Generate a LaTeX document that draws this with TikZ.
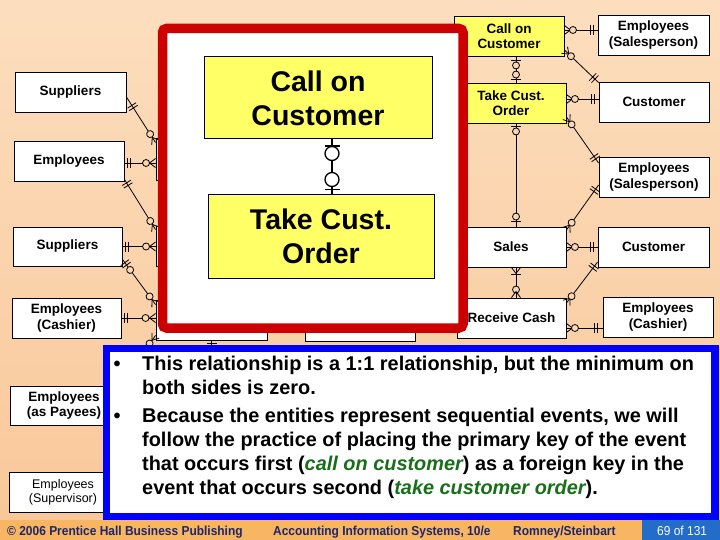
\documentclass[tikz,border=0pt]{standalone}
\usepackage{fontspec}
\setmainfont{Liberation Sans}
\newfontfamily\footfont{Liberation Sans}[FakeStretch=0.92]
\usetikzlibrary{calc,decorations.markings}

\definecolor{bgtop}{RGB}{252,222,190}
\definecolor{bgbot}{RGB}{249,199,152}
\definecolor{bgmid}{RGB}{251,214,176}
\definecolor{footor}{RGB}{248,182,98}
\definecolor{footblue}{RGB}{35,108,200}
\definecolor{navy}{RGB}{28,38,110}
\definecolor{redframe}{RGB}{204,0,0}
\definecolor{blueframe}{RGB}{0,0,255}
\definecolor{evyellow}{RGB}{255,255,102}
\definecolor{termgreen}{RGB}{25,110,25}

\tikzset{
  ent/.style={draw=black, line width=0.9pt, fill=white, inner sep=0pt, align=center,
    minimum width=110pt, minimum height=40pt, font=\bfseries\fontsize{13.5}{15.5}\selectfont},
  bigev/.style={draw=black, line width=1pt, fill=evyellow, inner sep=0pt, align=center,
    font=\bfseries\fontsize{28.5}{34}\selectfont},
  conn/.style={line width=0.8pt, draw=black},
  bigconn/.style={line width=1.3pt, draw=black},
  cfS/.style={postaction={decorate, decoration={markings, mark=at position 0.01pt with {\draw[conn] (0pt,4.5pt) -- (6pt,0pt) -- (0pt,-4.5pt);}}}},
  cfE/.style={postaction={decorate, decoration={markings, mark=at position -0.01pt with {\draw[conn] (0pt,4.5pt) -- (-6pt,0pt) -- (0pt,-4.5pt);}}}},
  ciS/.style={postaction={decorate, decoration={markings, mark=at position #1 with {\draw[conn,fill=bgmid] (0pt,0pt) circle (3.5pt);}}}},
  ciE/.style={postaction={decorate, decoration={markings, mark=at position -#1 with {\draw[conn,fill=bgmid] (0pt,0pt) circle (3.5pt);}}}},
  bS/.style={postaction={decorate, decoration={markings, mark=at position #1 with {\draw[conn] (0pt,5pt) -- (0pt,-5pt);}}}},
  bE/.style={postaction={decorate, decoration={markings, mark=at position -#1 with {\draw[conn] (0pt,5pt) -- (0pt,-5pt);}}}},
  bciS/.style={postaction={decorate, decoration={markings, mark=at position #1 with {\draw[bigconn,fill=white] (0pt,0pt) circle (7pt);}}}},
  bciE/.style={postaction={decorate, decoration={markings, mark=at position -#1 with {\draw[bigconn,fill=white] (0pt,0pt) circle (7pt);}}}},
  bbS/.style={postaction={decorate, decoration={markings, mark=at position #1 with {\draw[bigconn] (0pt,7.5pt) -- (0pt,-7.5pt);}}}},
  bbE/.style={postaction={decorate, decoration={markings, mark=at position -#1 with {\draw[bigconn] (0pt,7.5pt) -- (0pt,-7.5pt);}}}},
  bodytext/.style={anchor=base west, inner sep=0pt, font=\bfseries\fontsize{19.9}{24}\selectfont},
  foottext/.style={anchor=base west, inner sep=0pt, text=navy, font=\footfont\bfseries\fontsize{13}{15}\selectfont}
}

\begin{document}
\begin{tikzpicture}[x=1pt,y=-1pt]
\useasboundingbox (0,0) rectangle (720,540);
\shade[top color=bgtop,bottom color=bgbot] (0,0) rectangle (720,540);

% footer
\fill[footor] (0,520) rectangle (720,540);
\fill[footblue] (642,520) rectangle (720,540);
\node[foottext] (f1) at (7,535) {© 2006 Prentice Hall Business Publishing};
\node[foottext] (f2) at (273,535) {Accounting Information Systems, 10/e};
\node[foottext] (f3) at (513,535) {Romney/Steinbart};
\node[foottext, text=white, font=\footfont\fontsize{13}{15}\selectfont] (f4) at (657,535) {69 of 131};

% left entities
\node[ent,minimum width=111pt] (sup1) at (70.5,92) {Suppliers};
\node[ent] (emp1) at (69,161) {Employees};
\node[ent,minimum width=109pt,minimum height=39pt] (sup2) at (67.5,246.5) {Suppliers};
\node[ent,minimum width=109pt] (empc) at (66.5,318) {Employees\\(Cashier)};
\node[ent,minimum width=108pt,minimum height=39pt] (empp) at (64,405.5) {Employees\\(as Payees)};
\node[ent,font=\fontsize{12.5}{14}\selectfont,minimum width=108pt] (emps) at (63,492) {Employees\\(Supervisor)};

% hidden events
\node[ent,minimum width=111pt,minimum height=42pt] (ev1) at (211.5,159) {};
\node[ent,minimum width=111pt] (ev2) at (211.5,246) {};
\node[ent,minimum width=111pt] (ev3) at (211.5,320) {};
\node[ent] (ev4) at (360,321) {};

% right events and entities
\node[ent,fill=evyellow] (cc) at (509,36) {Call on\\Customer};
\node[ent,fill=evyellow] (tco) at (511,103) {Take Cust.\\Order};
\node[ent] (sales) at (511,247) {Sales};
\node[ent,minimum width=109pt] (rc) at (511.5,318) {Receive Cash};
\node[ent,minimum width=111pt] (es1) at (653.5,35) {Employees\\(Salesperson)};
\node[ent] (cu1) at (654,102) {Customer};
\node[ent] (es2) at (654,177) {Employees\\(Salesperson)};
\node[ent,minimum width=111pt] (cu2) at (653.5,247) {Customer};
\node[ent] (ecash) at (658,317) {Employees\\(Cashier)};

% left connectors
\draw[conn,bS=10pt,bS=13pt,ciE=10pt,cfE] ([yshift=-5pt]sup1.east) -- ([yshift=-5pt]ev1.north west);
\draw[conn,bS=3pt,bS=6pt,ciE=9.5pt,cfE] ([yshift=-2pt]emp1.east) -- ([yshift=-4pt]ev1.west);
\draw[conn,bS=4pt,bS=7pt,ciE=10pt,cfE] ([yshift=2pt]emp1.south east) -- ([yshift=-4pt]ev2.north west);
\draw[conn,bS=3pt,bS=6pt,ciE=9.5pt,cfE] (sup2.east) -- (sup2.east -| ev2.west);
\draw[conn,bS=4pt,bS=7pt,ciS=13pt,ciE=10pt,cfE] ([yshift=7pt]sup2.south east) -- ([yshift=-5pt]ev3.north west);
\draw[conn,bS=3pt,bS=6pt,ciE=10pt,cfE] (empc.east) -- (empc.east -| ev3.west);
\draw[conn,cfS,ciS=10pt] ([yshift=5pt]ev3.south west) -- (empp.north east);
\coordinate (ev3down) at (211.5,380);
\draw[conn,bS=3pt] (ev3.south) -- (ev3down);

% right connectors
\draw[conn,cfS,ciS=8.5pt,bE=4pt,bE=7pt] ([yshift=6pt]cc.east) -- ([yshift=5pt]es1.west);
\draw[conn,cfS,ciS=9pt,bE=5pt,bE=8pt] ([yshift=-14pt]cc.east) -- ([yshift=-1pt]cu1.north west);
\draw[conn,cfS,ciS=8.5pt,bE=4pt,bE=7pt] ([yshift=4pt]tco.east) -- ([yshift=3pt]cu1.west);
\draw[conn,cfS,ciS=9pt,bE=5pt,bE=8pt] ([yshift=-14pt]tco.east) -- ([yshift=14pt]es2.west);
\draw[conn,bS=4pt,ciS=9pt,ciE=8pt,bE=3pt] ([xshift=7pt]cc.south) -- ([xshift=5pt]tco.north);
\draw[conn,bS=3pt,ciS=8pt,ciE=10pt,bE=5pt] ([xshift=5pt]tco.south) -- ([xshift=5pt]sales.north);
\draw[conn,cfS,ciS=9pt,bE=5pt,bE=8pt] ([yshift=17pt]sales.east) -- ([yshift=-8pt]es2.west);
\draw[conn,cfS,ciS=8.5pt,bE=4pt,bE=7pt] (sales.east) -- (cu2.west);
\draw[conn,cfS,bS=7pt,ciE=8pt,cfE] ([xshift=5pt]sales.south) -- ([xshift=4.5pt]rc.north);
\draw[conn,cfS,ciS=8.5pt,bE=5pt,bE=8pt] ([yshift=15pt]rc.east) -- ([yshift=-15pt]cu2.west);
\draw[conn,cfS,ciS=8.5pt,bE=5pt,bE=8pt] ([yshift=-10pt]rc.east) -- ([yshift=-11pt]ecash.west);

% red callout frame
\draw[redframe, line width=9.5pt, fill=white, rounded corners=4pt] (162.5,28.5) rectangle (463,328);
\node[bigev,minimum width=228pt,minimum height=82pt] (bcc) at (318,98) {Call on\\Customer};
\node[bigev,minimum width=226pt,minimum height=83pt] (btco) at (321,236.5) {Take Cust.\\Order};
\draw[bigconn,bbS=6.5pt,bciS=14pt,bciE=15pt,bbE=5pt] ([xshift=14pt]bcc.south) -- ([xshift=11pt]btco.north);

% blue text frame
\draw[blueframe, line width=7.5pt, fill=white] (106.5,348.5) rectangle (715,516.5);
\node[bodytext,anchor=base] (b1) at (117,370.5) {•};
\node[bodytext,anchor=base] (b2) at (117,422.5) {•};
\node[bodytext] (t1) at (142,370.5) {This relationship is a 1:1 relationship, but the minimum on};
\node[bodytext] (t2) at (142,394) {both sides is zero.};
\node[bodytext] (t3) at (142,422.5) {Because the entities represent sequential events, we will};
\node[bodytext] (t4) at (142,446.5) {follow the practice of placing the primary key of the event};
\node[bodytext] (t5) at (142,470.5) {that occurs first (\textcolor{termgreen}{\itshape call on customer}) as a foreign key in the};
\node[bodytext] (t6) at (142,494) {event that occurs second (\textcolor{termgreen}{\itshape take customer order}).};
\end{tikzpicture}
\end{document}
